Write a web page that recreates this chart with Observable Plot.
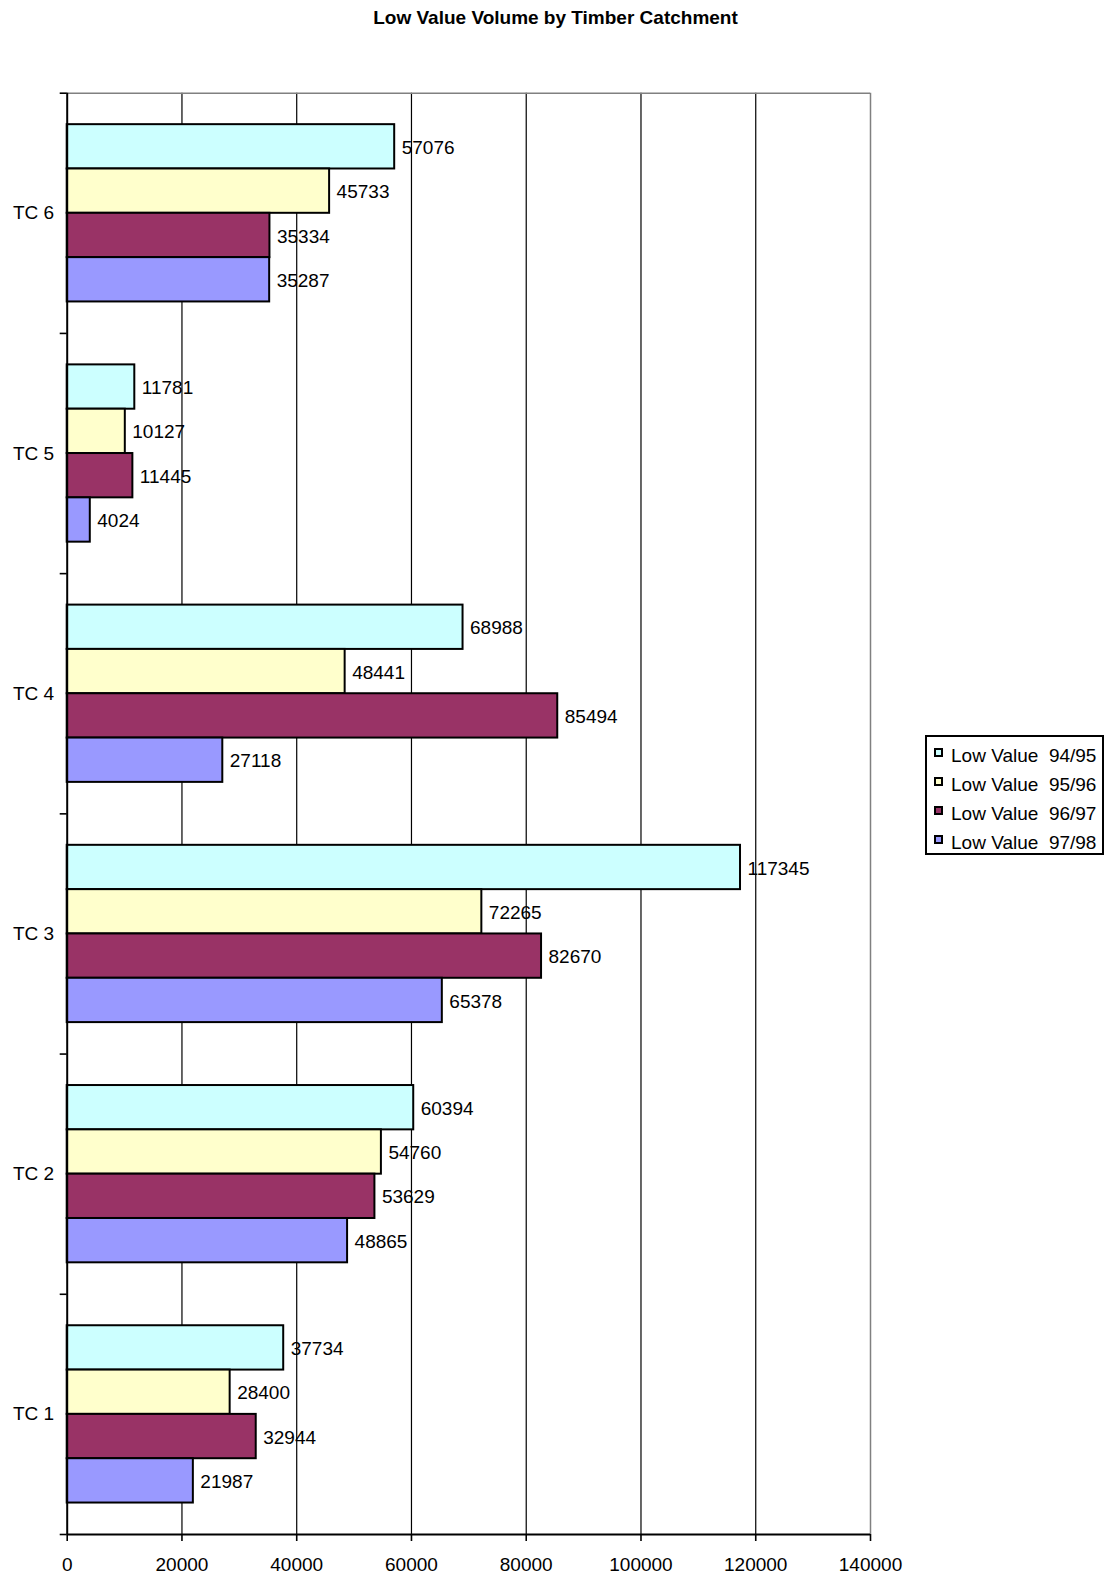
<!DOCTYPE html>
<html>
<head>
<meta charset="utf-8">
<script src="https://cdn.jsdelivr.net/npm/d3@7"></script>
<script src="https://cdn.jsdelivr.net/npm/@observablehq/plot@0.6"></script>
<style>
  html, body { margin: 0; padding: 0; background: #fff; }
  #wrap { position: relative; width: 1111px; height: 1577px; font-family: "Liberation Sans", Arial, sans-serif; color: #000; }
  #wrap svg { position: absolute; left: 0; top: 0; }
  #title { position: absolute; left: 0; width: 1111px; top: 8px; text-align: center; font-weight: bold; font-size: 19px; line-height: 19px; }
  #legend { position: absolute; left: 925px; top: 735px; width: 179px; height: 120px; box-sizing: border-box; border: 2px solid #000; background: #fff; }
  .row { position: absolute; left: 0; font-size: 19px; line-height: 19px; white-space: pre; }
  .sw { position: absolute; width: 9px; height: 9px; box-sizing: border-box; border: 2px solid #000; }
  .lab { position: absolute; left: 24px; top: 0; }
</style>
</head>
<body>
<div id="wrap">
  <div id="title">Low Value Volume by Timber Catchment</div>
</div>
<script>
// Timber catchments, bottom to top
const catchments = ["TC 1", "TC 2", "TC 3", "TC 4", "TC 5", "TC 6"];
// Seasons shown in each group, top to bottom
const seasons = ["Low Value  94/95", "Low Value  95/96", "Low Value  96/97", "Low Value  97/98"];
const seasonColors = ["#ccffff", "#ffffcc", "#993366", "#9999ff"];

// Low value volume per catchment (TC 1 .. TC 6)
const vol9495 = [37734, 60394, 117345, 68988, 11781, 57076];
const vol9596 = [28400, 54760, 72265, 48441, 10127, 45733];
const vol9697 = [32944, 53629, 82670, 85494, 11445, 35334];
const vol9798 = [21987, 48865, 65378, 27118, 4024, 35287];

const xTicks = [0, 20000, 40000, 60000, 80000, 100000, 120000, 140000];

const series = [vol9495, vol9596, vol9697, vol9798];

// Slot of each season inside one catchment band (band spans one unit on y)
const inner = d3.scaleBand().domain(seasons).range([1, 0]).paddingInner(0).paddingOuter(0.71);

const rows = [];
catchments.forEach((c, ci) => {
  seasons.forEach((s, si) => {
    const y1 = ci + inner(s);
    rows.push({catchment: c, season: s, value: series[si][ci], y1, y2: y1 + inner.bandwidth()});
  });
});

const chart = Plot.plot({
  width: 1111,
  height: 1577,
  marginTop: 92.7,
  marginBottom: 43,
  marginLeft: 66.7,
  marginRight: 241,
  style: {fontSize: "19px", fontFamily: "'Liberation Sans', Arial, sans-serif", color: "#000", background: "transparent"},
  x: {domain: [0, 140000]},
  y: {domain: [0, catchments.length]},
  color: {domain: seasons, range: seasonColors},
  marks: [
    // vertical gridlines
    Plot.ruleX(xTicks.slice(1, -1), {stroke: "#000", strokeWidth: 1.2}),
    // plot area border, top and right
    Plot.ruleX([xTicks[xTicks.length - 1]], {stroke: "#808080", strokeWidth: 1.5}),
    Plot.ruleY([catchments.length], {stroke: "#808080", strokeWidth: 1.5}),
    // bars
    Plot.rect(rows, {x1: 0, x2: "value", y1: "y1", y2: "y2", fill: "season", stroke: "#000", strokeWidth: 2}),
    // value labels
    Plot.text(rows, {x: "value", y: d => (d.y1 + d.y2) / 2, text: d => String(d.value), textAnchor: "start", dx: 7, dy: 1, fill: "#000"}),
    // axis lines
    Plot.ruleX([0], {stroke: "#000", strokeWidth: 2}),
    Plot.ruleY([0], {stroke: "#000", strokeWidth: 2}),
    // x axis
    Plot.axisX({ticks: xTicks, tickSize: 7, tickPadding: 16, strokeWidth: 1.6, tickFormat: d3.format("d"), label: null, fill: "#000"}),
    // category boundary ticks
    Plot.axisY({ticks: d3.range(0, catchments.length + 1), tickSize: 7, strokeWidth: 1.6, tickFormat: () => "", label: null}),
    // category labels at band centers
    Plot.axisY({ticks: catchments.map((c, i) => i + 0.5), tickSize: 0, tickPadding: 13, tickFormat: d => catchments[Math.floor(d)], label: null, fill: "#000"})
  ]
});

const wrap = document.getElementById("wrap");
wrap.insertBefore(chart, wrap.firstChild);

// Legend box built from the chart's colour scale
const color = chart.scale("color");
const legend = document.createElement("div");
legend.id = "legend";
color.domain.forEach((s, i) => {
  const row = document.createElement("div");
  row.className = "row";
  row.style.top = (8.5 + i * 29.3) + "px";
  row.style.left = "0px";
  const sw = document.createElement("div");
  sw.className = "sw";
  sw.style.left = "7px";
  sw.style.top = "2px";
  sw.style.background = color.range[i];
  const lab = document.createElement("div");
  lab.className = "lab";
  lab.textContent = s;
  row.appendChild(sw);
  row.appendChild(lab);
  legend.appendChild(row);
});
wrap.appendChild(legend);
</script>
</body>
</html>
